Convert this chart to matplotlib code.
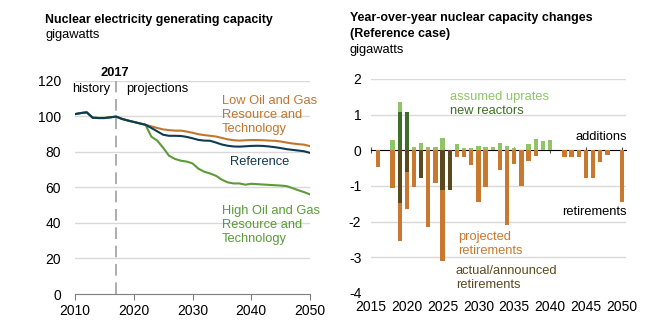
import numpy as np
import matplotlib
matplotlib.use("Agg")
import matplotlib.pyplot as plt

plt.rcParams['font.family'] = ['Liberation Sans', 'DejaVu Sans']
plt.rcParams['axes.unicode_minus'] = False

# left panel: capacity by case, gigawatts
years = np.arange(2010, 2051)
reference = [101.2, 101.8, 102.2, 99.2, 99.0, 99.0, 99.4, 99.8, 98.5, 97.6,
             96.8, 96.0, 95.2, 93.4, 91.5, 89.6, 89.0, 89.0, 88.9, 88.4,
             87.6, 86.7, 86.3, 86.2, 85.2, 84.1, 83.4, 83.0, 82.9, 83.1,
             83.3, 83.4, 83.3, 83.0, 82.6, 82.1, 81.5, 81.1, 80.7, 80.3, 79.4]
low_oil_gas = [101.2, 101.8, 102.2, 99.2, 99.0, 99.0, 99.4, 99.8, 98.5, 97.6,
               96.8, 96.0, 95.2, 94.3, 93.4, 92.6, 92.2, 91.9, 91.9, 91.4,
               90.7, 89.9, 89.4, 89.0, 88.6, 87.8, 87.0, 86.5, 86.3, 86.5,
               86.6, 86.6, 86.5, 86.3, 86.2, 85.8, 85.2, 84.7, 84.3, 84.0, 83.2]
high_oil_gas = [101.2, 101.8, 102.2, 99.2, 99.0, 99.0, 99.4, 99.8, 98.5, 97.6,
                96.8, 96.0, 95.2, 88.5, 86.3, 82.3, 77.8, 76.0, 75.0, 74.5,
                73.5, 70.5, 68.8, 67.8, 66.5, 64.3, 62.8, 62.2, 62.2, 61.5,
                62.0, 61.8, 61.6, 61.4, 61.2, 61.0, 60.7, 59.6, 58.4, 57.3, 56.0]

# right panel: year-over-year changes, reference case
bar_years = np.arange(2016, 2051)
uprates = [0, 0, 0.30, 0.28, 0, 0.08, 0.21, 0.10, 0.10, 0.35,
           0, 0.19, 0.07, 0.07, 0.13, 0.10, 0.10, 0.21, 0.13, 0.07,
           0, 0.19, 0.31, 0.25, 0.28, 0, 0, 0, 0, 0,
           0, 0, 0, 0, 0]
new_reactors = [0, 0, 0, 1.08, 1.08, 0, 0, 0, 0, 0,
                0, 0, 0, 0, 0, 0, 0, 0, 0, 0,
                0, 0, 0, 0, 0, 0, 0, 0, 0, 0,
                0, 0, 0, 0, 0]
announced_ret = [0, 0, 0, -1.48, -0.60, 0, -0.77, 0, 0, -1.12,
                 -1.12, 0, 0, 0, 0, 0, 0, 0, 0, 0,
                 0, 0, 0, 0, 0, 0, 0, 0, 0, 0,
                 0, 0, 0, 0, 0]
projected_ret = [-0.47, 0, -1.06, -1.07, -1.05, -1.02, 0, -2.14, -0.92, -1.98,
                 0, -0.20, -0.20, -0.40, -1.45, -1.02, 0, -0.54, -2.08, -0.37,
                 -0.99, -0.29, -0.15, 0, 0, 0, -0.19, -0.19, -0.19, -0.78,
                 -0.77, -0.34, -0.14, 0, -1.46]

c_ref = '#0d3b56'
c_low = '#c0762f'
c_high = '#5c9a3a'
c_orange = '#c8782f'
c_brown = '#5a4a1e'
c_dkgreen = '#3f6e2a'
c_ltgreen = '#90c567'
grid_c = '#d9d9d9'

W, H = 650, 331
fig = plt.figure(figsize=(W / 100, H / 100), dpi=100)


def px(x, y):
    return x / W, 1 - y / H


# ---- left chart
ax1 = fig.add_axes([75 / W, 1 - 294 / H, 235 / W, (294 - 80.7) / H])
for v in range(20, 121, 20):
    ax1.axhline(v, color=grid_c, lw=1, zorder=0)
ax1.axvline(2017, color='#a0a0a0', lw=1.2, dashes=(7, 4), zorder=1)
ax1.plot(years, low_oil_gas, color=c_low, lw=1.5, zorder=3)
ax1.plot(years, high_oil_gas, color=c_high, lw=1.5, zorder=3)
ax1.plot(years, reference, color=c_ref, lw=1.5, zorder=4)
ax1.set_xlim(2010, 2050)
ax1.set_ylim(0, 120)
ax1.set_xticks(range(2010, 2051, 10))
ax1.set_yticks(range(0, 121, 20))
for s in ['top', 'right', 'left']:
    ax1.spines[s].set_visible(False)
ax1.spines['bottom'].set_color('#7f7f7f')
ax1.tick_params(axis='x', direction='out', length=4, color='#7f7f7f',
                labelsize=10, pad=3)
ax1.tick_params(axis='y', length=0, labelsize=10, pad=10)

fig.text(*px(45, 20), 'Nuclear electricity generating capacity',
         fontsize=8.9, fontweight='bold', va='center')
fig.text(*px(45, 35), 'gigawatts', fontsize=9.3, va='center')
fig.text(*px(115, 73), '2017', fontsize=9.3, fontweight='bold',
         va='center', ha='center')
fig.text(*px(72, 89), 'history', fontsize=9.3, va='center')
fig.text(*px(126, 89), 'projections', fontsize=9.3, va='center')
fig.text(*px(222, 115), 'Low Oil and Gas\nResource and\nTechnology',
         fontsize=9.3, color=c_low, va='center', linespacing=1.2)
fig.text(*px(230, 162), 'Reference', fontsize=9.3, color=c_ref, va='center')
fig.text(*px(222, 225), 'High Oil and Gas\nResource and\nTechnology',
         fontsize=9.3, color=c_high, va='center', linespacing=1.2)

# ---- right chart
ax2 = fig.add_axes([371 / W, 1 - 293 / H, 255 / W, (293 - 79) / H])
for v in [2, 1, -1, -2, -3]:
    ax2.axhline(v, color=grid_c, lw=1, zorder=0)
bw = 0.6
ax2.bar(bar_years, new_reactors, bw, color=c_dkgreen, zorder=2)
ax2.bar(bar_years, uprates, bw, bottom=new_reactors, color=c_ltgreen, zorder=2)
ax2.bar(bar_years, announced_ret, bw, color=c_brown, zorder=2)
ax2.bar(bar_years, projected_ret, bw, bottom=announced_ret, color=c_orange,
        zorder=2)
ax2.set_xlim(2015, 2050.6)
ax2.set_ylim(-4, 2)
ax2.set_xticks(range(2015, 2051, 5))
ax2.set_yticks(range(-4, 3))
for s in ax2.spines.values():
    s.set_visible(False)
ax2.tick_params(axis='x', length=0, labelsize=10, pad=5)
ax2.tick_params(axis='y', length=0, labelsize=10, pad=7)

zero_ax = ax2.secondary_xaxis(4 / 6)
zero_ax.set_xticks(range(2015, 2051, 5))
zero_ax.tick_params(direction='inout', length=5, color='#555555',
                    labelbottom=False, labeltop=False)
zero_ax.spines['bottom'].set_color('#555555')
zero_ax.spines['bottom'].set_zorder(3)

fig.text(*px(350, 18), 'Year-over-year nuclear capacity changes',
         fontsize=9, fontweight='bold', va='center')
fig.text(*px(350, 34), '(Reference case)', fontsize=9, fontweight='bold',
         va='center')
fig.text(*px(350, 50), 'gigawatts', fontsize=9.3, va='center')
fig.text(*px(450, 97), 'assumed uprates', fontsize=9.3, color=c_ltgreen,
         va='center')
fig.text(*px(450, 111), 'new reactors', fontsize=9.3, color=c_dkgreen,
         va='center')
fig.text(*px(627, 137), 'additions', fontsize=9.3, va='center', ha='right')
fig.text(*px(627, 212), 'retirements', fontsize=9.3, va='center', ha='right')
fig.text(*px(458, 244), 'projected\nretirements', fontsize=9.3,
         color=c_orange, va='center', linespacing=1.2)
fig.text(*px(456, 278), 'actual/announced\nretirements', fontsize=9.3,
         color=c_brown, va='center', linespacing=1.2)

fig.savefig('out.png', dpi=100)
